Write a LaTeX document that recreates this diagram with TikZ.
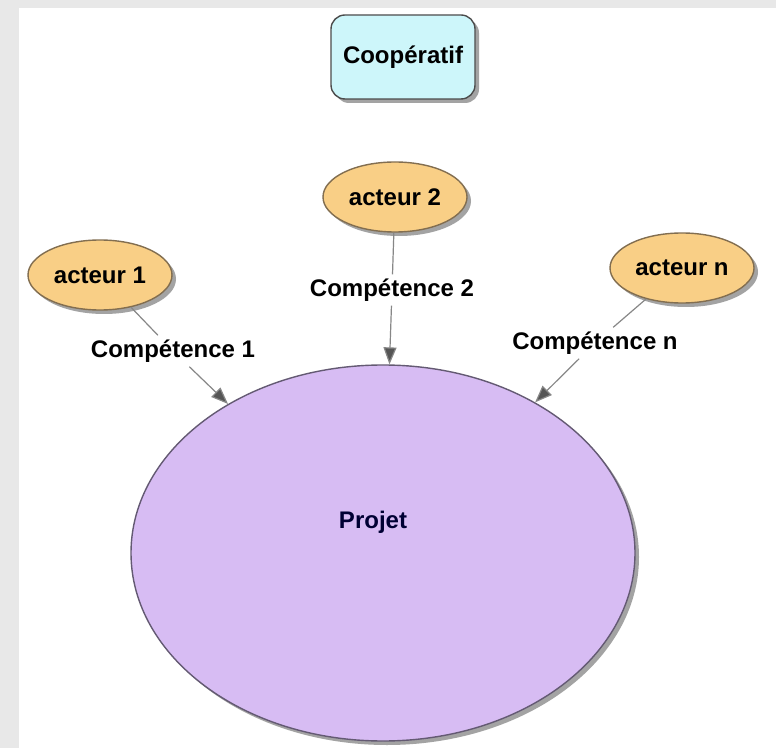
\documentclass[tikz,border=0pt]{standalone}
\usepackage{tikz}
\usetikzlibrary{arrows.meta, shapes.geometric, shadows}
\usepackage{fontspec}
\setmainfont{Liberation Sans}
\usepackage{xcolor}
\definecolor{acteurfill}{RGB}{249, 207, 134}
\definecolor{acteurline}{RGB}{130, 110, 80}
\definecolor{coopfill}{RGB}{205, 246, 250}
\definecolor{projfill}{RGB}{215, 188, 243}
\definecolor{projline}{RGB}{100, 90, 115}
\definecolor{linkgray}{RGB}{135, 135, 135}
\definecolor{tipgray}{RGB}{85, 85, 85}
\definecolor{pagegray}{RGB}{232, 232, 232}

\begin{document}
\begin{tikzpicture}[
        x=0.5pt, y=-0.5pt,
        font=\fontsize{12}{14}\selectfont\bfseries,
        shade/.style={drop shadow={shadow xshift=2pt, shadow yshift=-2pt, fill=black!45, opacity=0.8}},
        acteur/.style={ellipse, draw=acteurline, line width=0.7pt, fill=acteurfill, shade,
                       minimum width=72pt, minimum height=35pt, inner sep=0pt},
        coop/.style={rectangle, rounded corners=7pt, draw=black!70, line width=0.7pt, fill=coopfill, shade,
                     minimum width=72pt, minimum height=42pt},
        projet/.style={ellipse, draw=projline, line width=0.7pt, fill=projfill, shade,
                       minimum width=252pt, minimum height=188pt, inner sep=0pt},
        comp/.style={inner sep=2pt, fill=white},
        link/.style={draw=linkgray, line width=0.6pt},
        arrow/.style={-{Triangle[length=8.5pt, width=6.5pt, fill=tipgray]}, draw=linkgray, line width=0.6pt},
    ]
        \useasboundingbox (0,0) rectangle (776,748);
        % ===== fond =====
        \fill[pagegray] (0,0) rectangle (776,748);
        \fill[white] (19,8) rectangle (776,748);

        \node[coop] (coop) at (403,57) {Coopératif};

        \node[projet] (proj) at (383,553) {};
        \node[text=black!80!blue] (projtxt) at (373,522) {Projet};

        \node[acteur] (a1) at (100,275) {acteur 1};
        \node[acteur] (a2) at (395,197) {acteur 2};
        \node[acteur] (an) at (682,268) {acteur n};

        \node[comp] (c1) at (173,351) {Compétence 1};
        \node[comp] (c2) at (392,290) {Compétence 2};
        \node[comp] (cn) at (595,343) {Compétence n};

        \draw[link] (a1) -- (c1);
        \draw[link] (a2) -- (c2);
        \draw[link] (an) -- (cn);

        % competences vers le projet
        \draw[arrow] (c1) -- (proj);
        \draw[arrow] (c2) -- (proj);
        \draw[arrow] (cn) -- (proj);

    \end{tikzpicture}
\end{document}
